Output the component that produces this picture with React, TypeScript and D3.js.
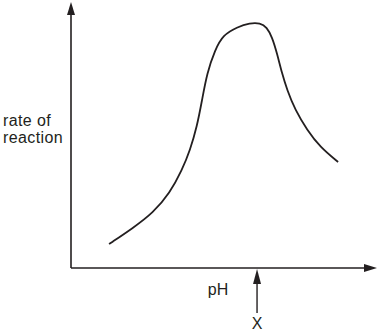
import React from "react";
import * as d3 from "d3";

const pH = [1.24, 2.02, 2.67, 3.22, 3.62, 3.88, 4.1, 4.27, 4.43, 4.69, 4.95, 5.41, 5.83, 6.16, 6.38, 6.55, 6.71, 6.87, 7.04, 7.3, 7.69, 8.11, 8.7];
const rate = [0.91, 1.52, 2.09, 2.85, 3.73, 4.49, 5.36, 6.39, 7.41, 8.29, 8.86, 9.16, 9.32, 9.32, 9.16, 8.78, 8.17, 7.41, 6.77, 6.01, 5.25, 4.6, 4.03];
const markerX = 6.06;
const yLabel = ["rate of", "reaction"];
const xLabel = "pH";
const markerLabel = "X";

export default function App() {
  const W = 378, H = 331;
  const x = d3.scaleLinear().domain([0, 10]).range([71, 378]);
  const y = d3.scaleLinear().domain([0, 10]).range([268, 5]);
  const pts: [number, number][] = pH.map((p, i) => [p, rate[i]]);
  const line = d3.line<[number, number]>().x(d => x(d[0])).y(d => y(d[1])).curve(d3.curveBasis);
  const ox = x(0), oy = y(0);
  const stroke = "#231f20";
  const font = "Liberation Sans, Arial, sans-serif";
  const mx = x(markerX);
  const first = pts[0], last = pts[pts.length - 1];
  const allPts: [number, number][] = [first, ...pts, last];
  return (
    <svg width={W} height={H} style={{ position: "absolute", left: 0, top: 0 }}>
      <rect width={W} height={H} fill="#fff" />
      <line x1={ox} y1={oy} x2={ox} y2={14} stroke={stroke} strokeWidth={1.6} />
      <path d={`M${ox},2 L${ox - 4},15 L${ox + 4},15 Z`} fill={stroke} />
      <line x1={ox} y1={oy} x2={366} y2={oy} stroke={stroke} strokeWidth={1.6} />
      <path d={`M377,${oy} L364,${oy - 4} L364,${oy + 4} Z`} fill={stroke} />
      <path d={line(allPts) || ""} fill="none" stroke={stroke} strokeWidth={1.8} />
      <line x1={mx} y1={282} x2={mx} y2={313} stroke={stroke} strokeWidth={1.4} />
      <path d={`M${mx},269 L${mx - 4},284 L${mx + 4},284 Z`} fill={stroke} />
      <g fontFamily={font} fontSize={16} fill={stroke}>
        <text x={3} y={126} letterSpacing={0.4}>{yLabel[0]}</text>
        <text x={3} y={143} letterSpacing={0.4}>{yLabel[1]}</text>
        <text x={218} y={295} textAnchor="middle">{xLabel}</text>
        <text x={mx} y={329} textAnchor="middle">{markerLabel}</text>
      </g>
    </svg>
  );
}
